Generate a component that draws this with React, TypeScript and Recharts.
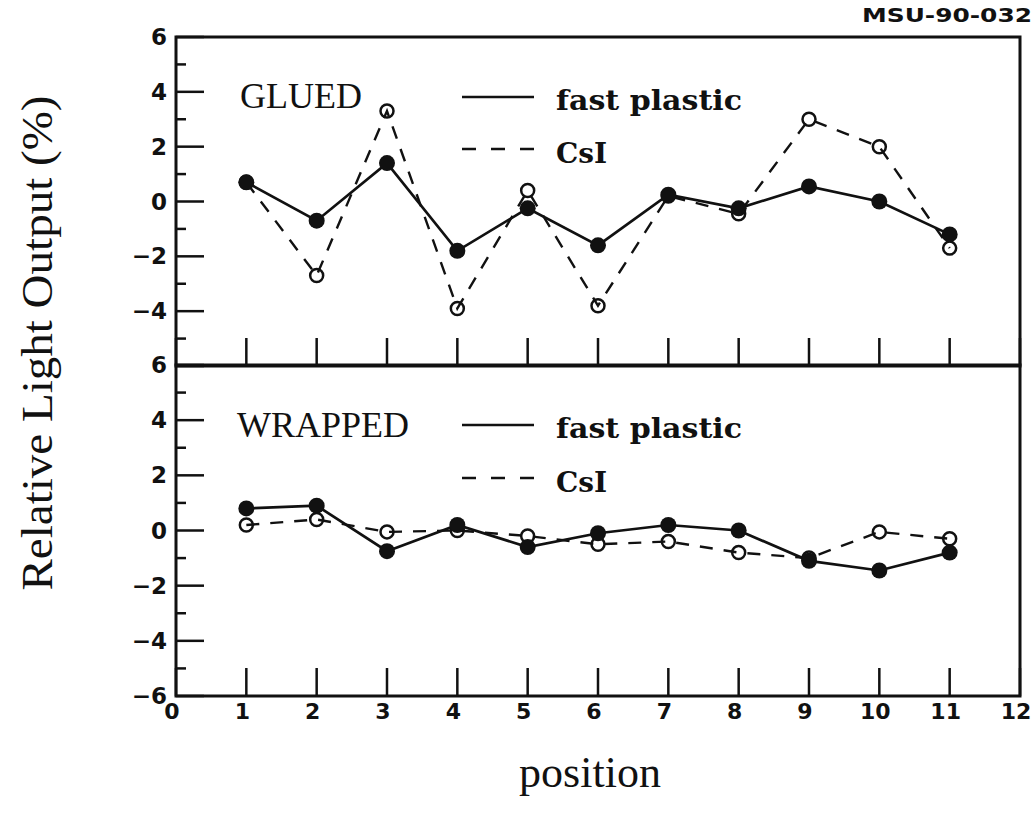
import { Legend, Line, LineChart, ReferenceArea, XAxis, YAxis } from "recharts";

// scan positions along the module
const POSITIONS = [1, 2, 3, 4, 5, 6, 7, 8, 9, 10, 11];

// relative light output (%), glued wrapping
const GLUED_PLASTIC = [0.7, -0.7, 1.4, -1.8, -0.25, -1.6, 0.25, -0.25, 0.55, 0.0, -1.2];
const GLUED_CSI = [0.7, -2.7, 3.3, -3.9, 0.4, -3.8, 0.2, -0.45, 3.0, 2.0, -1.7];

// relative light output (%), wrapped
const WRAPPED_PLASTIC = [0.8, 0.9, -0.75, 0.2, -0.6, -0.1, 0.2, 0.0, -1.1, -1.45, -0.8];
const WRAPPED_CSI = [0.2, 0.4, -0.05, 0.0, -0.2, -0.5, -0.4, -0.8, -1.0, -0.05, -0.3];

const X_TICKS = [0, 1, 2, 3, 4, 5, 6, 7, 8, 9, 10, 11, 12];
const Y_TICKS = [-6, -5, -4, -3, -2, -1, 0, 1, 2, 3, 4, 5, 6];

const INK = "#111";
const TICK_FONT = "'DejaVu Sans', sans-serif";
const KEY_FONT = "'DejaVu Serif', serif";
const TITLE_FONT = "'Liberation Serif', serif";
const PAGE_W = 1036;

function rows(plastic: number[], csi: number[]) {
  return POSITIONS.map((position, i) => ({ position, plastic: plastic[i], csi: csi[i] }));
}

function fmt(v: number) {
  return v < 0 ? `\u2212${-v}` : `${v}`;
}

function LeftTick(props: any) {
  const { x, y, payload, skipBottom } = props;
  const v = payload.value as number;
  const major = v % 2 === 0;
  const label = major && !(skipBottom && v === -6);
  return (
    <g>
      <line x1={x} x2={x + (major ? 28 : 10)} y1={y} y2={y} stroke={INK} strokeWidth={2.5} />
      {label && (
        <text
          x={x - 9}
          y={y}
          textAnchor="end"
          dominantBaseline="central"
          fontFamily={TICK_FONT}
          fontWeight="bold"
          fontSize={23}
          fill={INK}
        >
          {fmt(v)}
        </text>
      )}
    </g>
  );
}

function RightTick(props: any) {
  const { x, y, payload } = props;
  const v = payload.value as number;
  const major = v % 2 === 0;
  return <line x1={x} x2={x - (major ? 28 : 10)} y1={y} y2={y} stroke={INK} strokeWidth={2.5} />;
}

function BottomTick(props: any) {
  const { x, y, payload, labels } = props;
  const v = payload.value as number;
  return (
    <g>
      <line x1={x} x2={x} y1={y} y2={y - 28} stroke={INK} strokeWidth={2.5} />
      {labels && (
        <text
          x={x - 4}
          y={y + 7}
          textAnchor="middle"
          dominantBaseline="hanging"
          fontFamily={TICK_FONT}
          fontWeight="bold"
          fontSize={22}
          fill={INK}
        >
          {v}
        </text>
      )}
    </g>
  );
}

function OpenDot(props: any) {
  const { cx, cy, index } = props;
  return <circle key={`o-${index}`} cx={cx} cy={cy} r={6.5} fill="none" stroke={INK} strokeWidth={2.5} />;
}

function FilledDot(props: any) {
  const { cx, cy, index } = props;
  return <circle key={`f-${index}`} cx={cx} cy={cy} r={8} fill={INK} stroke="none" />;
}

interface KeyLayout {
  titleX: number;
  titleY: number;
  solidY: number;
  dashY: number;
  plasticY: number;
  csiY: number;
}

function PanelKey({ title, layout, height }: { title: string; layout: KeyLayout; height: number }) {
  return (
    <svg width={PAGE_W} height={height} style={{ display: "block" }}>
      <text x={layout.titleX} y={layout.titleY} fontFamily={TITLE_FONT} fontSize={36} fill={INK}>
        {title}
      </text>
      <line x1={462} x2={534} y1={layout.solidY} y2={layout.solidY} stroke={INK} strokeWidth={2.5} />
      <line
        x1={462}
        x2={534}
        y1={layout.dashY}
        y2={layout.dashY}
        stroke={INK}
        strokeWidth={2.5}
        strokeDasharray="14 15"
      />
      <text
        x={556}
        y={layout.plasticY}
        fontFamily={KEY_FONT}
        fontWeight="bold"
        fontSize={28}
        textLength={186}
        lengthAdjust="spacingAndGlyphs"
        fill={INK}
      >
        fast plastic
      </text>
      <text x={556} y={layout.csiY} fontFamily={KEY_FONT} fontWeight="bold" fontSize={28} fill={INK}>
        CsI
      </text>
    </svg>
  );
}

interface PanelProps {
  title: string;
  plastic: number[];
  csi: number[];
  top: number;
  height: number;
  marginTop: number;
  marginBottom: number;
  xAxisHeight: number;
  lower: boolean;
  keyLayout: KeyLayout;
}

function Panel(p: PanelProps) {
  const data = rows(p.plastic, p.csi);
  return (
    <div style={{ position: "absolute", left: 0, top: p.top }}>
      <LineChart
        width={PAGE_W}
        height={p.height}
        data={data}
        margin={{ top: p.marginTop, right: 15, bottom: p.marginBottom, left: 116 }}
      >
        <XAxis
          type="number"
          dataKey="position"
          domain={[0, 12]}
          ticks={X_TICKS}
          interval={0}
          height={p.xAxisHeight}
          tickLine={false}
          axisLine={false}
          tickSize={0}
          tickMargin={0}
          tick={(t: any) => <BottomTick {...t} labels={p.lower} />}
          label={
            p.lower
              ? {
                  value: "position",
                  position: "insideBottom",
                  offset: 19,
                  dx: -8,
                  fontFamily: TITLE_FONT,
                  fontSize: 44,
                  fill: INK,
                }
              : undefined
          }
        />
        <YAxis
          yAxisId="left"
          type="number"
          domain={[-6, 6]}
          ticks={Y_TICKS}
          interval={0}
          width={60}
          tickLine={false}
          axisLine={false}
          tickSize={0}
          tickMargin={0}
          tick={(t: any) => <LeftTick {...t} skipBottom={!p.lower} />}
        />
        <YAxis
          yAxisId="right"
          orientation="right"
          type="number"
          domain={[-6, 6]}
          ticks={Y_TICKS}
          interval={0}
          width={1}
          tickLine={false}
          axisLine={false}
          tickSize={0}
          tickMargin={0}
          tick={(t: any) => <RightTick {...t} />}
        />
        <ReferenceArea
          yAxisId="left"
          x1={0}
          x2={12}
          y1={-6}
          y2={6}
          fill="none"
          stroke={INK}
          strokeWidth={3}
          ifOverflow="visible"
        />
        <Line
          yAxisId="left"
          type="linear"
          dataKey="csi"
          stroke={INK}
          strokeWidth={2.4}
          strokeDasharray="13 11"
          dot={(d: any) => <OpenDot {...d} />}
          isAnimationActive={false}
        />
        <Line
          yAxisId="left"
          type="linear"
          dataKey="plastic"
          stroke={INK}
          strokeWidth={2.7}
          dot={(d: any) => <FilledDot {...d} />}
          isAnimationActive={false}
        />
        <Legend
          layout="horizontal"
          verticalAlign="middle"
          align="center"
          wrapperStyle={{ left: 0, top: 0, width: PAGE_W, height: p.height, pointerEvents: "none" }}
          content={() => <PanelKey title={p.title} layout={p.keyLayout} height={p.height} />}
        />
      </LineChart>
    </div>
  );
}

export default function App() {
  return (
    <div
      style={{
        position: "absolute",
        left: 0,
        top: 0,
        width: PAGE_W,
        height: 816,
        background: "#fff",
        overflow: "hidden",
      }}
    >
      <Panel
        title="GLUED"
        plastic={GLUED_PLASTIC}
        csi={GLUED_CSI}
        top={0}
        height={380}
        marginTop={37}
        marginBottom={13}
        xAxisHeight={1}
        lower={false}
        keyLayout={{ titleX: 240, titleY: 108, solidY: 97, dashY: 149, plasticY: 110, csiY: 163 }}
      />
      <Panel
        title="WRAPPED"
        plastic={WRAPPED_PLASTIC}
        csi={WRAPPED_CSI}
        top={340}
        height={476}
        marginTop={25}
        marginBottom={10}
        xAxisHeight={110}
        lower={true}
        keyLayout={{ titleX: 237, titleY: 97, solidY: 85, dashY: 138, plasticY: 98, csiY: 152 }}
      />
      <svg
        width={PAGE_W}
        height={816}
        style={{ position: "absolute", left: 0, top: 0, pointerEvents: "none" }}
      >
        <text
          transform="translate(37 343) rotate(-90)"
          textAnchor="middle"
          dominantBaseline="central"
          fontFamily={TITLE_FONT}
          fontSize={45}
          textLength={495}
          lengthAdjust="spacingAndGlyphs"
          fill={INK}
        >
          Relative Light Output (%)
        </text>
        <text
          x={1032}
          y={22}
          textAnchor="end"
          fontFamily={TICK_FONT}
          fontWeight="bold"
          fontSize={19}
          textLength={170}
          lengthAdjust="spacingAndGlyphs"
          fill={INK}
        >
          MSU-90-032
        </text>
      </svg>
    </div>
  );
}
